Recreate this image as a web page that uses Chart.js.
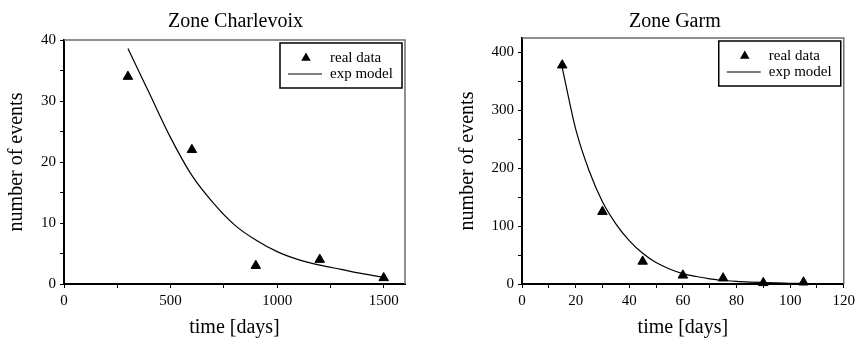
<!DOCTYPE html>
<html>
<head>
<meta charset="utf-8">
<script src="https://cdn.jsdelivr.net/npm/chart.js"></script>
<style>
  body { margin: 0; background: #fff; }
  .painel { position: absolute; top: 0; height: 338px; }
</style>
</head>
<body>
<div class="painel" style="left:0;width:430px"><canvas id="chartCharlevoix" width="430" height="338"></canvas></div>
<div class="painel" style="left:430px;width:429px"><canvas id="chartGarm" width="429" height="338"></canvas></div>
<script>
// Zone Charlevoix
const charlevoixDays = [300, 600, 900, 1200, 1500];
const charlevoixEvents = [34, 22, 3, 4, 1];
const charlevoixModelDays = [300, 400, 500, 600, 700, 800, 900, 1000, 1100, 1200, 1300, 1400, 1500];
const charlevoixModelEvents = [38.6, 31.3, 24.0, 17.8, 13.3, 9.7, 7.2, 5.3, 4.0, 3.1, 2.4, 1.7, 1.1];
const charlevoixXTicks = [0, 500, 1000, 1500];
const charlevoixYTicks = [0, 10, 20, 30, 40];

// Zone Garm
const garmDays = [15, 30, 45, 60, 75, 90, 105];
const garmEvents = [378, 125, 39, 15, 10, 2, 3];
const garmModelDays = [15, 20, 25, 30, 35, 40, 45, 50, 55, 60, 65, 70, 75, 80, 85, 90, 95, 100, 105];
const garmModelEvents = [374, 268, 196, 142, 104, 75, 53, 37, 26, 18, 13, 9, 6.5, 4.5, 3.3, 2.5, 1.8, 1.3, 1];
const garmXTicks = [0, 20, 40, 60, 80, 100, 120];
const garmYTicks = [0, 100, 200, 300, 400];

Chart.defaults.font.family = '"Liberation Serif", "Times New Roman", serif';
Chart.defaults.color = '#000';

// top and right edges of the frame (grey)
const moldura = {
  id: 'moldura',
  afterLayout(chart, args, opts) {
    // nudge the title sideways
    chart.titleBlock.left += opts.tituloDx;
    chart.titleBlock.right += opts.tituloDx;
  },
  beforeDatasetsDraw(chart) {
    const { ctx, chartArea: a } = chart;
    ctx.save();
    ctx.strokeStyle = '#6e6e6e';
    ctx.lineWidth = 1.5;
    ctx.beginPath();
    ctx.moveTo(a.left, a.top);
    ctx.lineTo(a.right, a.top);
    ctx.lineTo(a.right, a.bottom);
    ctx.stroke();
    ctx.restore();
  }
};

// boxed legend inside the plot, top right
const legendaCaixa = {
  id: 'legendaCaixa',
  afterDatasetsDraw(chart) {
    const { ctx, chartArea: a } = chart;
    const w = 122, h = 45;
    const left = a.right - w - 3;
    const top = a.top + 3;
    ctx.save();
    ctx.fillStyle = '#fff';
    ctx.fillRect(left, top, w, h);
    ctx.strokeStyle = '#000';
    ctx.lineWidth = 1.5;
    ctx.strokeRect(left, top, w, h);
    ctx.font = '15px "Liberation Serif"';
    ctx.fillStyle = '#000';
    ctx.textBaseline = 'middle';
    chart.data.datasets.forEach((ds, i) => {
      const y = top + 15 + i * 16;
      if (ds.showLine) {
        ctx.lineWidth = 1.2;
        ctx.beginPath();
        ctx.moveTo(left + 8, y);
        ctx.lineTo(left + 42, y);
        ctx.stroke();
      } else {
        const r = ds.pointRadius;
        ctx.beginPath();
        ctx.moveTo(left + 26, y - r);
        ctx.lineTo(left + 26 + r * 0.87, y + r / 2);
        ctx.lineTo(left + 26 - r * 0.87, y + r / 2);
        ctx.closePath();
        ctx.fill();
      }
      ctx.fillText(ds.label, left + 50, y);
    });
    ctx.restore();
  }
};

function eixo(min, max, step, labels, titulo, tituloPad, fit) {
  return {
    type: 'linear',
    min: min,
    max: max,
    border: { color: '#000', width: 2 },
    grid: { drawOnChartArea: false, tickLength: 4, tickColor: '#000', tickWidth: 1 },
    ticks: {
      stepSize: step,
      includeBounds: false,
      autoSkip: false,
      maxRotation: 0,
      padding: 4,
      font: { size: 15 },
      callback: v => labels.includes(v) ? v : ''
    },
    title: { display: true, text: titulo, font: { size: 20 }, padding: tituloPad },
    afterFit: fit
  };
}

function desenharGrafico(id, cfg) {
  return new Chart(document.getElementById(id), {
    type: 'scatter',
    data: {
      datasets: [{
        label: 'real data',
        data: cfg.days.map((d, i) => ({ x: d, y: cfg.events[i] })),
        pointStyle: 'triangle',
        pointRadius: 5.5,
        backgroundColor: '#000',
        borderColor: '#000',
        borderWidth: 1,
        clip: false
      }, {
        label: 'exp model',
        data: cfg.modelDays.map((d, i) => ({ x: d, y: cfg.modelEvents[i] })),
        showLine: true,
        pointRadius: 0,
        borderColor: '#000',
        borderWidth: 1.2,
        cubicInterpolationMode: 'monotone',
        fill: false
      }]
    },
    options: {
      responsive: false,
      animation: false,
      events: [],
      layout: { padding: cfg.padding },
      scales: {
        x: eixo(0, cfg.xMax, cfg.xStep, cfg.xTicks, 'time [days]', { top: 0, bottom: -2 }, s => { s.height = 54; }),
        y: eixo(0, cfg.yMax, cfg.yStep, cfg.yTicks, 'number of events', { top: 5, bottom: 0 }, s => { s.width = cfg.yWidth; })
      },
      plugins: {
        legend: { display: false },
        tooltip: { enabled: false },
        title: {
          display: true,
          text: cfg.title,
          fullSize: false,
          font: { size: 20, weight: 'normal' },
          padding: { top: 10, bottom: cfg.titleGap }
        },
        moldura: { tituloDx: cfg.titleDx }
      }
    },
    plugins: [moldura, legendaCaixa]
  });
}

desenharGrafico('chartCharlevoix', {
  title: 'Zone Charlevoix',
  days: charlevoixDays, events: charlevoixEvents,
  modelDays: charlevoixModelDays, modelEvents: charlevoixModelEvents,
  xTicks: charlevoixXTicks, yTicks: charlevoixYTicks,
  xMax: 1600, xStep: 250, yMax: 40, yStep: 5,
  yWidth: 64, titleGap: 6, titleDx: 1,
  padding: { left: 0, right: 25, top: 0, bottom: 0 }
});

desenharGrafico('chartGarm', {
  title: 'Zone Garm',
  days: garmDays, events: garmEvents,
  modelDays: garmModelDays, modelEvents: garmModelEvents,
  xTicks: garmXTicks, yTicks: garmYTicks,
  xMax: 120, xStep: 10, yMax: 425, yStep: 50,
  yWidth: 71, titleGap: 4, titleDx: -8,
  padding: { left: 21, right: 8, top: 0, bottom: 0 }
});
</script>
</body>
</html>
